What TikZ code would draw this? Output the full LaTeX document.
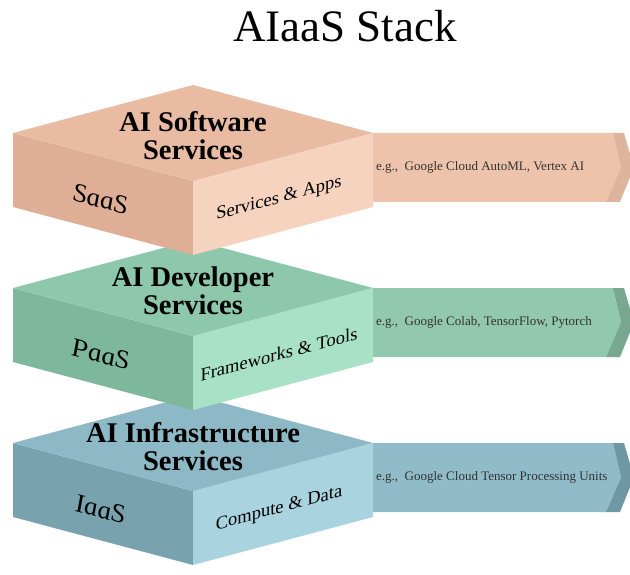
\documentclass[tikz,border=0pt]{standalone}
\usepackage{fontspec}
\setmainfont{Liberation Serif}
\begin{document}
\begin{tikzpicture}[x=1pt,y=-1pt,
  layertitle/.style={font=\fontsize{28.5}{28.5}\selectfont\bfseries, anchor=base, inner sep=0pt},
  leftlabel/.style={font=\fontsize{27}{27}\selectfont\itshape, yslant=-0.267, inner sep=0pt},
  rightlabel/.style={font=\fontsize{18.5}{18.5}\selectfont, yslant=0.267, inner sep=0pt},
  examplelabel/.style={font=\fontsize{13}{13}\selectfont, text=black!80, anchor=west, inner sep=0pt},
  face/.style={draw=none}]
\useasboundingbox (0,0) rectangle (630,575);

% colour sets: top face, left face, right face, arrow body, arrow side band
\definecolor{sw-top}{HTML}{E8BBA2}
\definecolor{sw-left}{HTML}{DEAF96}
\definecolor{sw-right}{HTML}{F6D3BF}
\definecolor{sw-arrow}{HTML}{EDC4AB}
\definecolor{sw-band}{HTML}{DDB49D}
\definecolor{dev-top}{HTML}{8DC8AD}
\definecolor{dev-left}{HTML}{7DB79C}
\definecolor{dev-right}{HTML}{A9E1C6}
\definecolor{dev-arrow}{HTML}{92C8AD}
\definecolor{dev-band}{HTML}{78A890}
\definecolor{inf-top}{HTML}{8DB8C6}
\definecolor{inf-left}{HTML}{79A2AF}
\definecolor{inf-right}{HTML}{A8D3DF}
\definecolor{inf-arrow}{HTML}{8FBCC8}
\definecolor{inf-band}{HTML}{6F98A4}

% #1 y of the side corners, #2 colour prefix, #3 first title line,
% #4 left-face label, #5 right-face label, #6 example text
\newcommand\aistacklayer[6]{%
  \pgfmathsetmacro\yL{#1}%
  \pgfmathsetmacro\yF{#1+48}%
  \pgfmathsetmacro\yB{#1-48}%
  \pgfmathsetmacro\yLd{#1+74}%
  \pgfmathsetmacro\yFd{#1+48+74}%
  \pgfmathsetmacro\yAb{#1+69}%
  \pgfmathsetmacro\yAm{#1+34.5}%
  % arrow band pointing right
  \fill[#2-arrow] (373,\yL) -- (613,\yL) -- (621,\yAm) -- (606,\yAb) -- (373,\yAb) -- cycle;
  \fill[#2-band] (613,\yL) -- (624,\yL) -- (634,\yAm) -- (620,\yAb) -- (606,\yAb) -- (621,\yAm) -- cycle;
  % block faces
  \fill[#2-left] (13,\yL) -- (193,\yF) -- (193,\yFd) -- (13,\yLd) -- cycle;
  \fill[#2-right] (373,\yL) -- (193,\yF) -- (193,\yFd) -- (373,\yLd) -- cycle;
  \fill[#2-top] (13,\yL) -- (193,\yB) -- (373,\yL) -- (193,\yF) -- cycle;
  % texts
  \node[layertitle] (#2-title) at (193,#1-1) {#3};
  \node[layertitle] (#2-services) at (193,#1+27) {Services};
  \node[leftlabel] (#2-model) at (100,#1+66) {#4};
  \node[rightlabel] (#2-scope) at (279,#1+66) {#5};
  \node[examplelabel] (#2-example) at (376,\yAm) {e.g.,~ #6};
}

\node[font=\fontsize{45}{45}\selectfont, anchor=base, inner sep=0pt] (stacktitle) at (345,42) {AIaaS Stack};

\aistacklayer{443}{inf}{AI Infrastructure}{IaaS}{Compute \& Data}{Google Cloud Tensor Processing Units}
\aistacklayer{288}{dev}{AI Developer}{PaaS}{Frameworks \& Tools}{Google Colab, TensorFlow, Pytorch}
\aistacklayer{133}{sw}{AI Software}{SaaS}{Services \& Apps}{Google Cloud AutoML, Vertex AI}
\end{tikzpicture}
\end{document}
